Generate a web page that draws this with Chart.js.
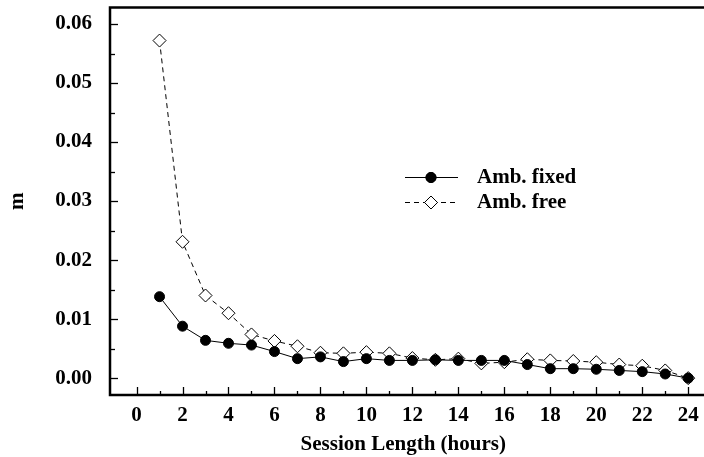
<!DOCTYPE html>
<html>
<head>
<meta charset="utf-8">
<script src="https://cdn.jsdelivr.net/npm/chart.js@4.4.0/dist/chart.umd.min.js"></script>
<style>
    html, body { margin: 0; padding: 0; background: #fff; }
    #wrap { width: 704px; height: 457px; }
</style>
</head>
<body>
<div id="wrap"><canvas id="sessionChart" width="704" height="457"></canvas></div>
<script>
const hours = [1, 2, 3, 4, 5, 6, 7, 8, 9, 10, 11, 12, 13, 14, 15, 16, 17, 18, 19, 20, 21, 22, 23, 24]
const ambFixed = [0.0138, 0.0088, 0.0064, 0.0059, 0.0056, 0.0045, 0.0033, 0.0036, 0.0028, 0.0033, 0.0030, 0.0030,
    0.0031, 0.0030, 0.0030, 0.0030, 0.0023, 0.0016, 0.0016, 0.0015, 0.0013, 0.0011, 0.0007, 0.0000]
const ambFree = [0.0572, 0.0231, 0.0140, 0.0110, 0.0074, 0.0063, 0.0054, 0.0043, 0.0042, 0.0044, 0.0042, 0.0034,
    0.0031, 0.0033, 0.0025, 0.0027, 0.0032, 0.0030, 0.0029, 0.0027, 0.0023, 0.0021, 0.0013, 0.0000]
const xTickValues = [0, 2, 4, 6, 8, 10, 12, 14, 16, 18, 20, 22, 24]
const yTickValues = [0, 0.01, 0.02, 0.03, 0.04, 0.05, 0.06]

const serif = "'Liberation Serif', 'DejaVu Serif', serif"

const toPoints = (ys) => hours.map((h, i) => ({ x: h, y: ys[i] }))

// frame + inward ticks (major and minor) drawn off the scales
const frameTicks = {
    id: 'frameTicks',
    afterDatasetsDraw(chart) {
        const { ctx, chartArea: { left, top, bottom }, scales: { x, y } } = chart
        ctx.save()
        ctx.strokeStyle = '#000'
        ctx.lineWidth = 1.3
        for (let v = 0; v <= 24; v++) {
            const px = Math.round(x.getPixelForValue(v)) + 0.5
            const len = v % 2 === 0 ? 8 : 4
            ctx.beginPath()
            ctx.moveTo(px, bottom)
            ctx.lineTo(px, bottom - len)
            ctx.stroke()
        }
        for (let k = 0; k <= 12; k++) {
            const py = Math.round(y.getPixelForValue(k * 0.005)) + 0.5
            const len = k % 2 === 0 ? 8 : 5
            ctx.beginPath()
            ctx.moveTo(left, py)
            ctx.lineTo(left + len, py)
            ctx.stroke()
        }
        // right side of the frame runs off the canvas
        const edge = chart.width + 5
        ctx.lineWidth = 2.5
        ctx.beginPath()
        ctx.moveTo(edge, top)
        ctx.lineTo(left, top)
        ctx.lineTo(left, bottom)
        ctx.lineTo(edge, bottom)
        ctx.stroke()

        // legend
        const items = [
            { label: 'Amb. fixed', ds: chart.data.datasets[0], yy: 177 },
            { label: 'Amb. free', ds: chart.data.datasets[1], yy: 202 }
        ]
        items.forEach(it => {
            ctx.lineWidth = 1
            ctx.setLineDash(it.ds.borderDash || [])
            ctx.strokeStyle = '#000'
            ctx.beginPath()
            ctx.moveTo(405, it.yy + 0.5)
            ctx.lineTo(458, it.yy + 0.5)
            ctx.stroke()
            ctx.setLineDash([])
            Chart.helpers.drawPoint(ctx, {
                pointStyle: it.ds.pointStyle,
                radius: it.ds.pointRadius,
                borderWidth: 1
            }, 431, it.yy + 0.5)
            ctx.fillStyle = it.ds.pointBackgroundColor
            ctx.fill()
            ctx.strokeStyle = '#000'
            ctx.stroke()
            ctx.fillStyle = '#000'
            ctx.font = 'bold 21px ' + serif
            ctx.textBaseline = 'middle'
            ctx.textAlign = 'left'
            ctx.fillText(it.label, 477, it.yy + 1)
        })
        ctx.restore()
    }
}

const config = {
    type: 'line',
    data: {
        datasets: [
            {
                label: 'Amb. fixed',
                data: toPoints(ambFixed),
                borderColor: '#000',
                borderWidth: 1,
                pointStyle: 'circle',
                pointRadius: 5,
                pointBackgroundColor: '#000',
                pointBorderColor: '#000',
                pointBorderWidth: 1,
                tension: 0
            },
            {
                label: 'Amb. free',
                data: toPoints(ambFree),
                borderColor: '#000',
                borderWidth: 1,
                borderDash: [5, 4],
                pointStyle: 'rectRot',
                pointRadius: 6.5,
                pointBackgroundColor: '#fff',
                pointBorderColor: '#000',
                pointBorderWidth: 1,
                tension: 0
            }
        ]
    },
    options: {
        responsive: false,
        animation: false,
        layout: { padding: { top: 5, right: 0, left: 0, bottom: 0 } },
        scales: {
            x: {
                type: 'linear',
                min: -1.155,
                max: 24.36,
                afterFit: (scale) => {
                    scale.height = 62
                    scale.paddingLeft = 0
                    scale.paddingRight = 0
                },
                afterBuildTicks: (scale) => { scale.ticks = xTickValues.map(v => ({ value: v })) },
                grid: { display: false, drawTicks: false },
                border: { display: false },
                ticks: {
                    color: '#000',
                    padding: 8,
                    font: { family: serif, size: 21, weight: 'bold' },
                    callback: (v) => String(v)
                },
                title: {
                    display: true,
                    text: 'Session Length (hours)',
                    color: '#000',
                    font: { family: serif, size: 21, weight: 'bold' },
                    padding: { top: 0, bottom: 0 }
                }
            },
            y: {
                type: 'linear',
                min: -0.00286,
                max: 0.0628,
                afterFit: (scale) => {
                    scale.width = 110
                    scale.paddingTop = 0
                    scale.paddingBottom = 0
                },
                afterBuildTicks: (scale) => { scale.ticks = yTickValues.map(v => ({ value: v })) },
                grid: { display: false, drawTicks: false },
                border: { display: false },
                ticks: {
                    color: '#000',
                    padding: 18,
                    font: { family: serif, size: 21, weight: 'bold' },
                    callback: (v) => v.toFixed(2)
                },
                title: {
                    display: true,
                    text: 'm',
                    color: '#000',
                    font: { family: serif, size: 21, weight: 'bold' },
                    padding: { top: 5, bottom: 0 }
                }
            }
        },
        plugins: {
            legend: { display: false },
            tooltip: { enabled: false }
        }
    },
    plugins: [frameTicks]
}

new Chart(document.getElementById('sessionChart'), config)
</script>
</body>
</html>
